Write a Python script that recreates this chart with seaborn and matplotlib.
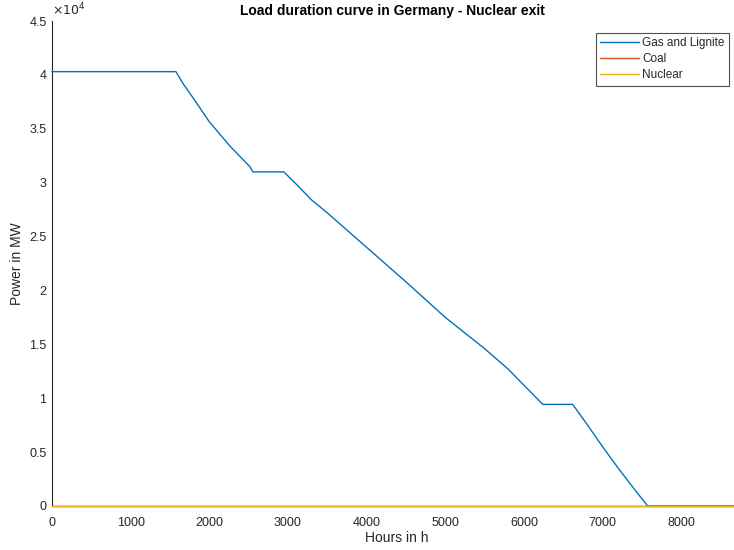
import matplotlib
matplotlib.use("Agg")
import matplotlib.pyplot as plt
import seaborn as sns
import pandas as pd
from matplotlib.ticker import FixedLocator, FuncFormatter

# Sorted hourly generation (load duration curve), breakpoints in hours / MW
gas_hours = [0, 1576, 1665, 1800, 2000, 2262, 2516, 2554, 2948, 3100, 3300, 3500,
             4000, 4500, 5000, 5500, 5800, 6000, 6240, 6620, 6800, 7000, 7200,
             7400, 7573, 8760]
gas_mw = [40300, 40300, 39200, 37800, 35650, 33400, 31480, 31000, 31000, 29900,
          28400, 27200, 24000, 20800, 17500, 14600, 12700, 11200, 9430, 9430,
          7600, 5500, 3500, 1600, 0, 0]
coal_hours = [0, 8760]
coal_mw = [0, 0]
nuclear_hours = [0, 8760]
nuclear_mw = [0, 0]

series_names = ["Gas and Lignite", "Coal", "Nuclear"]
series_colors = ["#0072BD", "#D95319", "#EDB120"]

sns.set_style("white")
plt.rcParams["font.family"] = ["Liberation Sans", "DejaVu Sans"]

fig = plt.figure(figsize=(7.34, 5.5), dpi=100)
ax = fig.add_axes([52 / 734, 44 / 550, 689 / 734, 485 / 550])

frames = [
    pd.DataFrame({"h": gas_hours, "p": gas_mw}),
    pd.DataFrame({"h": coal_hours, "p": coal_mw}),
    pd.DataFrame({"h": nuclear_hours, "p": nuclear_mw}),
]
for df, name, col in zip(frames, series_names, series_colors):
    sns.lineplot(data=df, x="h", y="p", ax=ax, color=col, linewidth=1.0,
                 label=name, estimator=None, sort=False, zorder=3)
for line in ax.get_lines():
    line.set_clip_on(False)

ax.set_xlim(0, 8760)
ax.set_ylim(0, 45000)
ax.xaxis.set_major_locator(FixedLocator([0, 1000, 2000, 3000, 4000, 5000, 6000, 7000, 8000]))
ax.yaxis.set_major_locator(FixedLocator([i * 5000 for i in range(10)]))
ax.yaxis.set_major_formatter(FuncFormatter(lambda v, p: f"{v / 1e4:g}"))

for side in ["top", "right"]:
    ax.spines[side].set_visible(False)
for side in ["left", "bottom"]:
    ax.spines[side].set_color("#262626")
    ax.spines[side].set_linewidth(0.8)
    ax.spines[side].set_zorder(1)
ax.tick_params(direction="in", length=5, width=0.8, color="#262626",
               labelsize=9, labelcolor="#262626", pad=4)
ax.tick_params(axis="x", pad=8)

ax.text(0.0, 1.005, r"$\times10^{4}$", transform=ax.transAxes, fontsize=9,
        color="#262626", ha="left", va="bottom")

ax.set_xlabel("Hours in h", fontsize=10, color="#262626", labelpad=1)
ax.set_ylabel("Power in MW", fontsize=10, color="#262626", labelpad=4)
fig.text(392 / 734, 1 - 11 / 550, "Load duration curve in Germany - Nuclear exit",
         fontsize=10, fontweight="bold", ha="center", va="center", color="black")

leg = ax.legend(loc="upper right", bbox_to_anchor=(729 / 734, 1 - 33 / 550),
                bbox_transform=fig.transFigure, fontsize=8.5, frameon=True,
                fancybox=False, handlelength=3.3, handletextpad=0.3,
                borderpad=0.35, labelspacing=0.35, borderaxespad=0)
leg.get_frame().set_edgecolor("#262626")
leg.get_frame().set_linewidth(0.8)
for h in leg.get_lines():
    h.set_linewidth(1.0)

fig.savefig("out.png", dpi=100)
